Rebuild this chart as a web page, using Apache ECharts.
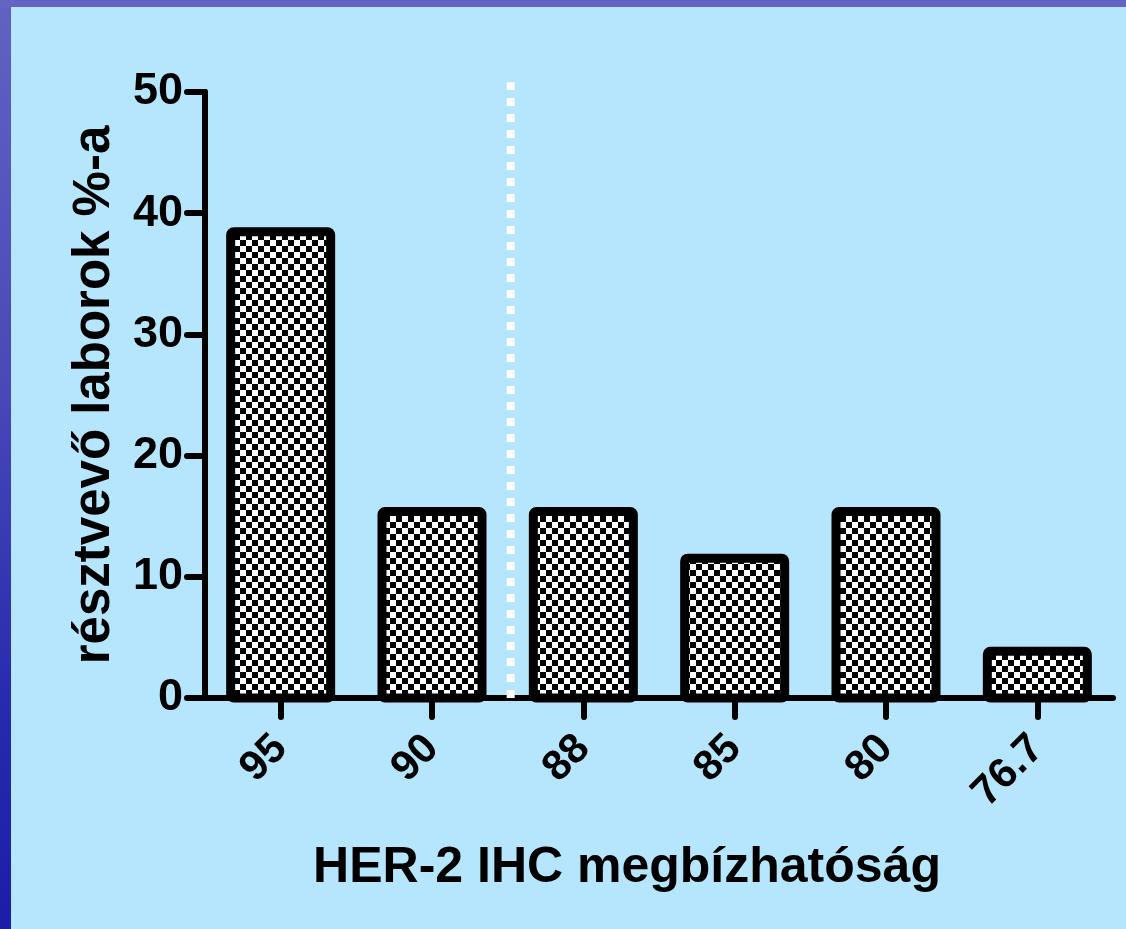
<!DOCTYPE html>
<html>
<head>
<meta charset="utf-8">
<script src="https://cdn.jsdelivr.net/npm/echarts@6/dist/echarts.min.js"></script>
<style>
  html, body { margin:0; padding:0; width:1126px; height:929px; overflow:hidden; }
  #frame { position:absolute; left:0; top:0; width:1126px; height:929px;
    background: linear-gradient(180deg, #6262c2 0%, #4a4ab8 40%, #2a2aae 75%, #1c1ca8 100%); }
  #top { position:absolute; left:0; top:0; width:1126px; height:8px; background:#6464c4; }
  #inner { position:absolute; left:11px; top:7px; right:0; bottom:0; background:#b5e6fd; }
  #chart { position:absolute; left:0; top:0; width:1126px; height:929px; }
</style>
</head>
<body>
<div id="frame"><div id="top"></div><div id="inner"></div></div>
<div id="chart"></div>
<script>
// Data
const categories = ['95', '90', '88', '85', '80', '76.7'];
const values = [38.46, 15.38, 15.38, 11.54, 15.38, 3.85];
const yTicks = [0, 10, 20, 30, 40, 50];
const dividerPosition = 2.02;   // between "90" and "88" (category units)
const dividerTop = 50.8;

// checkerboard pattern
const cell = 6;
const pc = document.createElement('canvas');
pc.width = cell * 2; pc.height = cell * 2;
const g = pc.getContext('2d');
g.fillStyle = '#ffffff'; g.fillRect(0, 0, cell * 2, cell * 2);
g.fillStyle = '#000000';
g.fillRect(0, 0, cell, cell);
g.fillRect(cell, cell, cell, cell);
const pattern = { image: pc, repeat: 'repeat' };

const font = '"Liberation Sans", Arial, Helvetica, sans-serif';
const chart = echarts.init(document.getElementById('chart'), null, { renderer: 'canvas' });

const barData = values.map((v, i) => [i, v]);
const BAR_W = 100, BORDER = 9;

chart.setOption({
  backgroundColor: 'transparent',
  animation: false,
  grid: { left: 205, right: 13, top: 92, bottom: 231, containLabel: false },
  xAxis: [{
    type: 'category',
    data: categories,
    axisLine: { lineStyle: { color: '#000', width: 6, cap: 'round' } },
    axisTick: { show: true, alignWithLabel: true, length: 19, lineStyle: { color: '#000', width: 6, cap: 'round' } },
    axisLabel: { rotate: 45, margin: 44, color: '#000', fontSize: 42, fontWeight: 'bold', fontFamily: font },
    name: 'HER-2 IHC megbízhatóság',
    nameLocation: 'middle',
    nameGap: 145,
    nameTextStyle: { color: '#000', fontSize: 50, fontWeight: 'bold', fontFamily: font, padding: [0, 64, 0, 0] }
  }, {
    type: 'value', min: 0, max: 6, show: false
  }],
  yAxis: {
    type: 'value',
    min: 0, max: 50, interval: 10,
    axisLine: { show: true, lineStyle: { color: '#000', width: 6, cap: 'round' } },
    axisTick: { show: true, length: 18, lineStyle: { color: '#000', width: 6, cap: 'round' } },
    splitLine: { show: false },
    axisLabel: { margin: 22, color: '#000', fontSize: 45, fontWeight: 'bold', fontFamily: font,
      formatter: v => yTicks.includes(v) ? String(v) : '' },
    name: 'résztvevő laborok %-a',
    nameLocation: 'middle',
    nameGap: 85,
    nameTextStyle: { color: '#000', fontSize: 51, fontWeight: 'bold', fontFamily: font }
  },
  series: [{
    type: 'custom',
    data: barData,
    encode: { x: 0, y: 1 },
    z: 3,
    renderItem: function (params, api) {
      const top = api.coord([api.value(0), api.value(1)]);
      const base = api.coord([api.value(0), 0]);
      return {
        type: 'rect',
        shape: { x: top[0] - BAR_W / 2, y: top[1], width: BAR_W, height: base[1] - top[1], r: 3 },
        style: { fill: pattern, stroke: '#000', lineWidth: BORDER }
      };
    }
  }, {
    type: 'line',
    xAxisIndex: 1,
    data: [[dividerPosition, 0], [dividerPosition, dividerTop]],
    symbol: 'none',
    clip: false,
    z: 5,
    lineStyle: { color: '#ffffff', width: 8, type: [8, 8] }
  }]
});
</script>
</body>
</html>
